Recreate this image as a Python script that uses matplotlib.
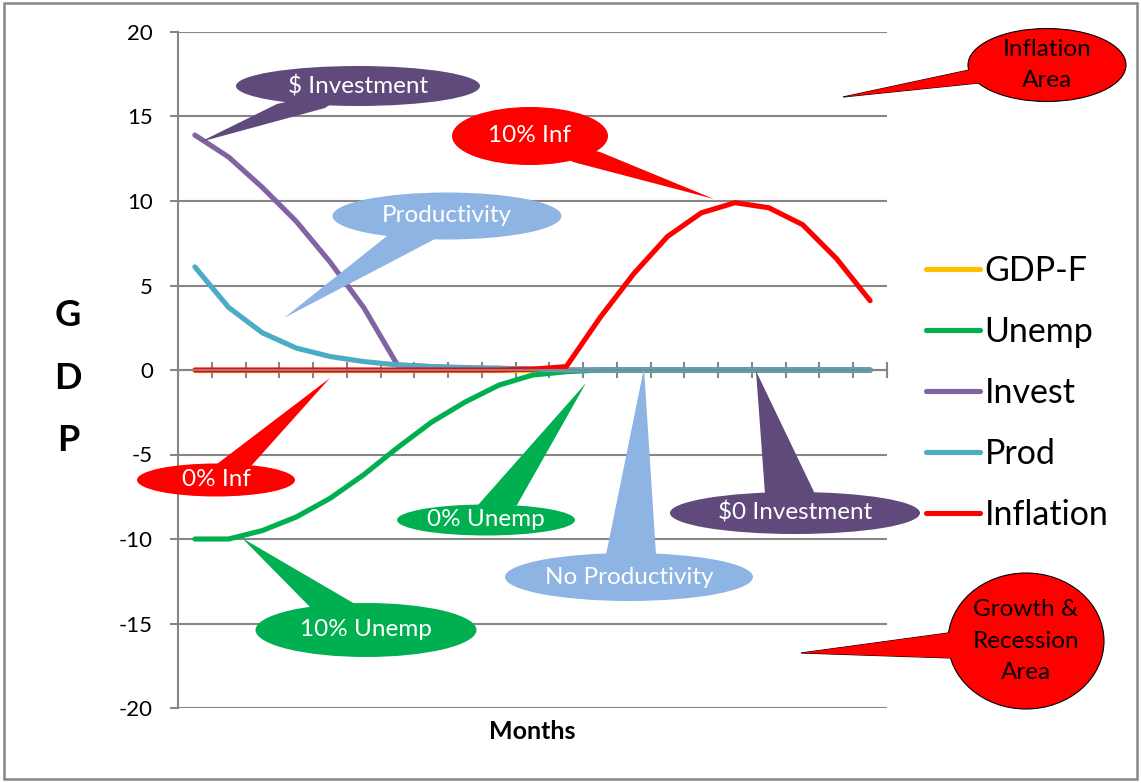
import numpy as np
import matplotlib
matplotlib.use("Agg")
import matplotlib.pyplot as plt
from matplotlib.patches import Ellipse, Polygon, Rectangle

plt.rcParams['font.family'] = ['Lato', 'DejaVu Sans']
plt.rcParams['axes.unicode_minus'] = False

# data (21 monthly points, no tick labels shown)
months = list(range(1, 22))
gdp_f = [0] * 21
unemp = [-10, -10, -9.5, -8.7, -7.6, -6.2, -4.6, -3.1, -1.9, -0.9, -0.3, -0.1,
         0, 0, 0, 0, 0, 0, 0, 0, 0]
invest = [13.9, 12.6, 10.8, 8.8, 6.4, 3.7, 0.3, 0.2, 0.1, 0.1, 0.05, 0,
          0, 0, 0, 0, 0, 0, 0, 0, 0]
prod = [6.1, 3.7, 2.2, 1.3, 0.8, 0.5, 0.3, 0.2, 0.15, 0.1, 0.05, 0,
        0, 0, 0, 0, 0, 0, 0, 0, 0]
inflation = [0, 0, 0, 0, 0, 0, 0, 0, 0, 0, 0.05, 0.2, 3.1, 5.7, 7.9, 9.3,
             9.9, 9.6, 8.6, 6.6, 4.1]

series = [("GDP-F", gdp_f, "#FFC000"),
          ("Unemp", unemp, "#00B050"),
          ("Invest", invest, "#8064A2"),
          ("Prod", prod, "#4BACC6"),
          ("Inflation", inflation, "#FF0000")]

W, H = 1141, 783
fig = plt.figure(figsize=(W / 100, H / 100), dpi=100)
ax = fig.add_axes([178 / W, 1 - 708 / H, 709 / W, 676 / H])

x = np.arange(len(months))
for name, vals, col in series:
    ax.plot(x, vals, color=col, lw=3.7, label=name,
            solid_capstyle='round', solid_joinstyle='round')

grey = "#868686"
ax.set_xlim(-0.5, len(months) - 0.5)
ax.set_ylim(-20, 20)
ax.set_yticks(range(-20, 21, 5))
ax.grid(axis='y', color=grey, lw=1.5)
ax.set_axisbelow(True)
for s in ['top', 'right']:
    ax.spines[s].set_visible(False)
ax.spines['left'].set_color(grey)
ax.spines['left'].set_linewidth(1.5)
ax.spines['bottom'].set_position(('data', 0))
ax.spines['bottom'].set_color(grey)
ax.spines['bottom'].set_linewidth(1.5)
ax.set_xticks(np.arange(-0.5, len(months)))
ax.set_xticklabels([])
ax.tick_params(axis='x', direction='inout', length=12, width=1.5, color=grey)
ax.tick_params(axis='y', direction='out', length=6, width=1.5, color=grey,
               labelsize=16, pad=12)

ax.set_xlabel("Months", fontsize=18, fontweight='bold', labelpad=0)
ax.xaxis.set_label_coords(0.5, -0.018)
ax.set_ylabel("G\n\nD\n\nP", rotation=0, fontsize=26, fontweight='bold',
              linespacing=0.93, va='center', ha='center')
ax.yaxis.set_label_coords(-0.155, 0.488)

leg = ax.legend(loc='center left', bbox_to_anchor=(926 / W, 1 - 393 / H),
                bbox_transform=fig.transFigure, frameon=False, fontsize=24.5,
                handlelength=1.6, handletextpad=0.12, labelspacing=0.85,
                borderpad=0, borderaxespad=0)

# overlay in pixel coordinates for the border and the callout shapes
ov = fig.add_axes([0, 0, 1, 1], zorder=5)
ov.set_xlim(0, W)
ov.set_ylim(H, 0)
ov.axis('off')
ov.patch.set_alpha(0)
ov.add_patch(Rectangle((4, 3), 1133, 776, fill=False, ec=grey, lw=1.8))

callouts = [
    ("$ Investment", (358, 86), 244, 40, (200, 142), (277, 104), (325, 108), "#604A7B", "white", False),
    ("Productivity", (447, 216), 229, 47, (284, 318), (387, 236), (435, 239), "#8EB4E3", "white", False),
    ("10% Inf", (530, 136), 156, 58, (714, 199), (573, 162), (600, 152), "#FF0000", "white", False),
    ("Inflation\nArea", (1047, 65), 158, 73, (843, 97), (969, 70), (979, 83), "#FF0000", "black", True),
    ("0% Inf", (216, 480), 158, 33, (330, 378), (217, 464), (252, 465), "#FF0000", "white", False),
    ("0% Unemp", (486, 520), 178, 31, (586, 383), (478, 505), (517, 505), "#00B050", "white", False),
    ("10% Unemp", (366, 630), 221, 54, (242, 538), (310, 607), (355, 604), "#00B050", "white", False),
    ("No Productivity", (629, 577), 248, 48, (644, 368), (606, 555), (656, 555), "#8EB4E3", "white", False),
    ("$0 Investment", (795, 513), 250, 42, (756, 371), (765, 494), (815, 494), "#604A7B", "white", False),
    ("Growth &\nRecession\nArea", (1026, 641), 156, 136, (801, 653), (948, 633), (950, 658), "#FF0000", "black", True),
]

for text, c, w, h, tip, b1, b2, fc, tc, edged in callouts:
    quad = [tip, b1, c, b2]
    if edged:
        ov.add_patch(Polygon(quad, closed=True, fc=fc, ec='black', lw=0.8, zorder=1))
        ov.add_patch(Ellipse(c, w, h, fc=fc, ec='black', lw=0.8, zorder=2))
        ov.add_patch(Polygon(quad, closed=True, fc=fc, ec='none', zorder=3))
        ov.text(c[0], c[1], text, color=tc, fontsize=17.5, ha='center',
                va='center', linespacing=1.6, zorder=4)
    else:
        ov.add_patch(Polygon(quad, closed=True, fc=fc, ec='none', zorder=1))
        ov.add_patch(Ellipse(c, w, h, fc=fc, ec='none', zorder=2))
        ov.text(c[0], c[1], text, color=tc, fontsize=17.5, ha='center',
                va='center', zorder=4)

fig.savefig("out.png", dpi=100)
